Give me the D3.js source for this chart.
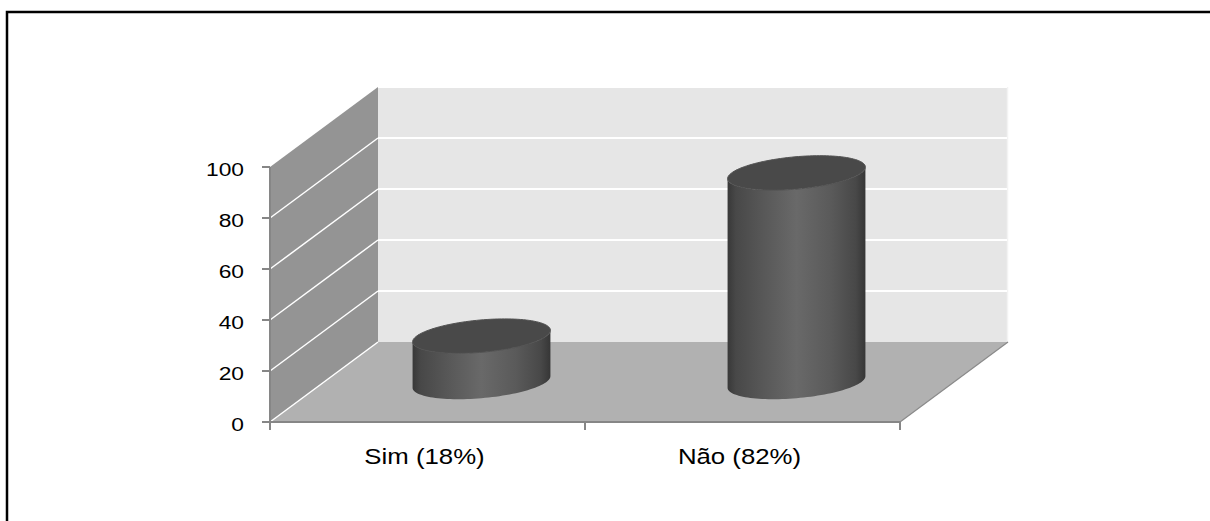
<!DOCTYPE html>
<html>
<head>
<meta charset="utf-8">
<script src="https://cdn.jsdelivr.net/npm/d3@7"></script>
<style>
  body { margin: 0; background: #fff; overflow: hidden; }
  svg { display: block; }
</style>
</head>
<body>
<div class="chart"></div>
<script>
// data
const categories = ['Sim (18%)', 'Não (82%)'];
const values = [18, 82];
const yTicks = [0, 20, 40, 60, 80, 100];

const width = 1210;
const height = 521;

const svg = d3.select('.chart')
    .append('svg')
    .attr('width', width)
    .attr('height', height);

// outer frame, only top and left edges are inside the picture
svg.append('path')
    .attr('d', `M7,${height}V12H${width}`)
    .attr('fill', 'none')
    .attr('stroke', '#000')
    .attr('stroke-width', 2.5);

// front plane scales
const x = d3.scaleBand().domain(categories).range([270, 900]);
const y = d3.scaleLinear().domain([0, 100]).range([422, 167]);

// depth of the 3d box
const dx = 108, dy = 80;

const x0 = x.range()[0], x1 = x.range()[1];

// side wall
svg.append('polygon')
    .attr('points', [[x0, y(100)], [x0 + dx, y(100) - dy], [x0 + dx, y(0) - dy], [x0, y(0)]].join(' '))
    .attr('fill', '#949494');

// back wall
svg.append('polygon')
    .attr('points', [[x0 + dx, y(100) - dy], [x1 + dx, y(100) - dy], [x1 + dx, y(0) - dy], [x0 + dx, y(0) - dy]].join(' '))
    .attr('fill', '#e6e6e6');

svg.append('line')
    .attr('x1', x1 + dx - 0.5).attr('x2', x1 + dx - 0.5)
    .attr('y1', y(100) - dy).attr('y2', y(0) - dy)
    .attr('stroke', '#f3f3f3').attr('stroke-width', 1.5);

// floor
svg.append('polygon')
    .attr('points', [[x0, y(0)], [x1, y(0)], [x1 + dx, y(0) - dy], [x0 + dx, y(0) - dy]].join(' '))
    .attr('fill', '#b1b1b1');

svg.append('line')
    .attr('x1', x1).attr('y1', y(0))
    .attr('x2', x1 + dx).attr('y2', y(0) - dy)
    .attr('stroke', '#8a8a8a').attr('stroke-width', 1.2);

// gridlines on side and back walls
svg.selectAll('.grid-side')
    .data(yTicks.filter(d => d < 100))
    .enter()
    .append('line')
    .attr('class', 'grid-side')
    .attr('x1', x0).attr('y1', d => y(d))
    .attr('x2', x0 + dx).attr('y2', d => y(d) - dy)
    .attr('stroke', '#fff')
    .attr('stroke-width', 1.5);

svg.selectAll('.grid-back')
    .data(yTicks.filter(d => d > 0))
    .enter()
    .append('line')
    .attr('class', 'grid-back')
    .attr('x1', x0 + dx).attr('y1', d => y(d) - dy)
    .attr('x2', x1 + dx - 1).attr('y2', d => y(d) - dy)
    .attr('stroke', '#fff')
    .attr('stroke-width', 2);

// cylinder shading
const defs = svg.append('defs');
const grad = defs.append('linearGradient')
    .attr('id', 'cyl')
    .attr('x1', '0%').attr('x2', '100%').attr('y1', '0%').attr('y2', '0%');
[[0, '#383838'], [0.06, '#484848'], [0.25, '#575757'], [0.5, '#696969'], [0.75, '#5a5a5a'], [0.93, '#484848'], [1, '#363636']]
    .forEach(s => grad.append('stop').attr('offset', s[0]).attr('stop-color', s[1]));

// cylinder geometry: circle on floor seen in oblique projection
const rx = x.bandwidth() * 0.206;
const depthFrac = 0.215;
const sx = dx * depthFrac, sy = dy * depthFrac;
const pt = (cx, cy, t) => [cx + rx * Math.cos(t) + sx * Math.sin(t), cy - sy * Math.sin(t)];
const a = Math.atan2(sx, rx);
const line = d3.line();

const bars = categories.map((c, i) => ({
    cat: c,
    value: values[i],
    cx: x(c) + x.bandwidth() / 2 + dx / 2,
    cyBase: y(0) - dy / 2,
    cyTop: y(values[i]) - dy / 2
}));

bars.forEach(b => {
    const pts = [];
    // left edge down, bottom front arc, right edge up, top front arc back
    pts.push(pt(b.cx, b.cyTop, Math.PI + a));
    for (let k = 0; k <= 60; k++) {
        pts.push(pt(b.cx, b.cyBase, Math.PI + a + Math.PI * k / 60));
    }
    for (let k = 0; k <= 60; k++) {
        pts.push(pt(b.cx, b.cyTop, 2 * Math.PI + a - Math.PI * k / 60));
    }
    svg.append('path')
        .attr('d', line(pts) + 'Z')
        .attr('fill', 'url(#cyl)');

    const top = [];
    for (let k = 0; k <= 120; k++) top.push(pt(b.cx, b.cyTop, 2 * Math.PI * k / 120));
    svg.append('path')
        .attr('d', line(top) + 'Z')
        .attr('fill', '#494949')
        .attr('stroke', '#525252')
        .attr('stroke-width', 1);
});

// y axis
const axisColor = '#868686';
svg.append('line')
    .attr('x1', x0).attr('x2', x0)
    .attr('y1', y(100)).attr('y2', y(0) + 8)
    .attr('stroke', axisColor).attr('stroke-width', 2);

svg.selectAll('.ytick')
    .data(yTicks)
    .enter()
    .append('line')
    .attr('x1', x0 - 8).attr('x2', x0)
    .attr('y1', d => y(d)).attr('y2', d => y(d))
    .attr('stroke', axisColor).attr('stroke-width', 2);

svg.selectAll('.ylabel')
    .data(yTicks)
    .enter()
    .append('text')
    .attr('text-anchor', 'end')
    .attr('transform', d => `translate(244,${y(d) + 9}) scale(1.2,1)`)
    .attr('font-family', 'Liberation Sans, Arial, sans-serif')
    .attr('font-size', 19)
    .attr('fill', '#000')
    .text(d => d);

// x axis
svg.append('line')
    .attr('x1', x0).attr('x2', x1)
    .attr('y1', y(0)).attr('y2', y(0))
    .attr('stroke', axisColor).attr('stroke-width', 2);

svg.selectAll('.xtick')
    .data([x0, x0 + x.bandwidth(), x1])
    .enter()
    .append('line')
    .attr('x1', d => d).attr('x2', d => d)
    .attr('y1', y(0)).attr('y2', y(0) + 8)
    .attr('stroke', axisColor).attr('stroke-width', 2);

svg.selectAll('.xlabel')
    .data(categories)
    .enter()
    .append('text')
    .attr('text-anchor', 'middle')
    .attr('transform', d => `translate(${x(d) + x.bandwidth() / 2 - 3},463.5) scale(1.2,1)`)
    .attr('font-family', 'Liberation Sans, Arial, sans-serif')
    .attr('font-size', 21.5)
    .attr('fill', '#000')
    .text(d => d);
</script>
</body>
</html>
